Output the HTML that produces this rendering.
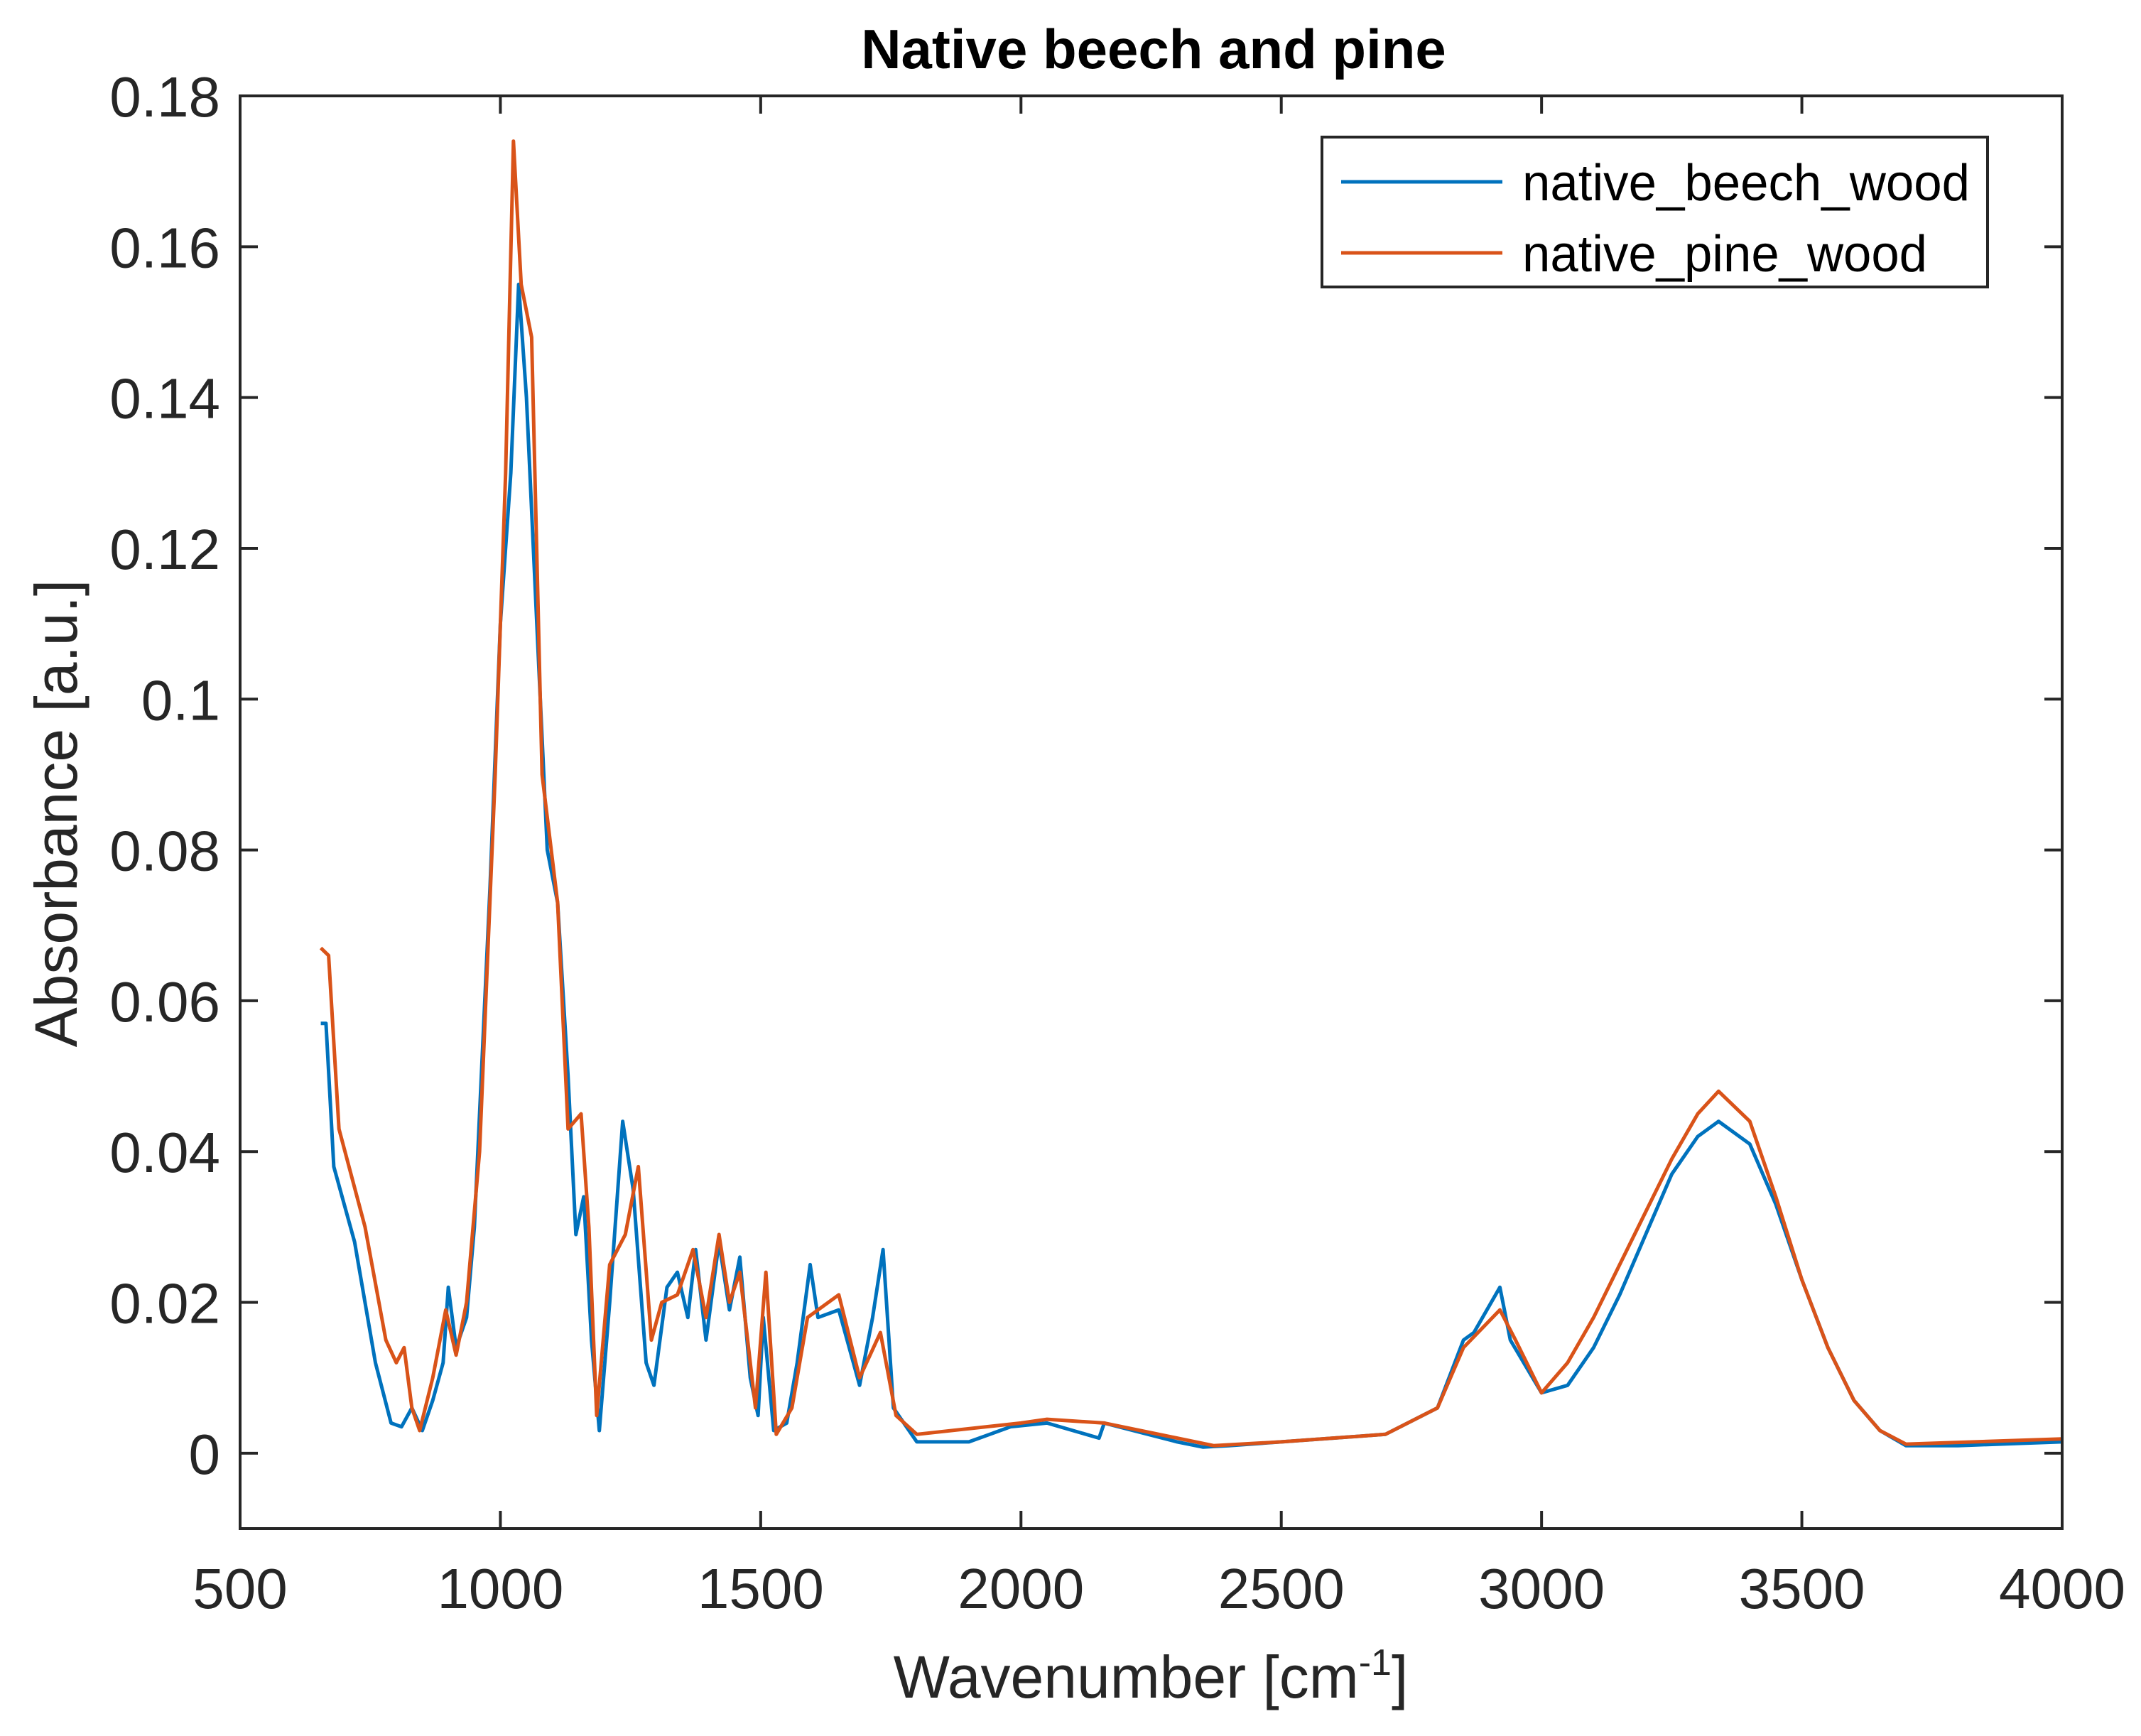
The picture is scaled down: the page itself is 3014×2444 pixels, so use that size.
<!DOCTYPE html>
<html><head><meta charset="utf-8"><style>
html,body{margin:0;padding:0;background:#fff;}
svg{display:block;font-family:"Liberation Sans",sans-serif;}
</style></head><body>
<svg id="chart" width="3014" height="2444" viewBox="0 0 3014 2444" xmlns="http://www.w3.org/2000/svg">
<rect x="0" y="0" width="3014" height="2444" fill="#fff"/>
<text x="1624" y="96" font-size="78" font-weight="bold" text-anchor="middle" fill="#000">Native beech and pine</text>
<g id="plot"></g>
<g id="axes"></g>
<text x="1620" y="2390" font-size="84" text-anchor="middle" fill="#262626">Wavenumber [cm<tspan font-size="52" dy="-32">-1</tspan><tspan dy="32">]</tspan></text>
<text transform="translate(108,1145) rotate(-90)" font-size="84" text-anchor="middle" fill="#262626">Absorbance [a.u.]</text>
<g>
<rect x="1861" y="193" width="937" height="211" fill="#fff" stroke="#262626" stroke-width="4"/>
<line x1="1888" y1="256" x2="2115" y2="256" stroke="#0072BD" stroke-width="5"/>
<text x="2143" y="282" font-size="72" textLength="630" lengthAdjust="spacingAndGlyphs" fill="#000">native_beech_wood</text>
<line x1="1888" y1="356" x2="2115" y2="356" stroke="#D95319" stroke-width="5"/>
<text x="2143" y="382" font-size="72" textLength="570" lengthAdjust="spacingAndGlyphs" fill="#000">native_pine_wood</text>
</g>
</svg>
<script>
const xTicks=[500,1000,1500,2000,2500,3000,3500,4000];
const yTicks=[0,0.02,0.04,0.06,0.08,0.1,0.12,0.14,0.16,0.18];
const yTickLabels=["0","0.02","0.04","0.06","0.08","0.1","0.12","0.14","0.16","0.18"];
const beechX=[655,665,680,720,760,790,810,830,850,870,890,900,915,935,950,980,1000,1020,1035,1050,1070,1090,1110,1130,1145,1160,1175,1190,1210,1235,1255,1280,1295,1320,1340,1360,1375,1395,1420,1440,1460,1480,1495,1505,1525,1550,1570,1595,1610,1650,1690,1715,1735,1755,1800,1900,1980,2050,2150,2160,2300,2350,2400,2600,2700,2800,2850,2870,2920,2940,3000,3050,3100,3150,3200,3250,3300,3340,3400,3450,3500,3550,3600,3650,3700,3800,4000];
const beechY=[0.057,0.057,0.038,0.028,0.012,0.004,0.0035,0.006,0.003,0.007,0.012,0.022,0.014,0.018,0.03,0.075,0.11,0.13,0.155,0.14,0.11,0.08,0.073,0.05,0.029,0.034,0.015,0.003,0.02,0.044,0.035,0.012,0.009,0.022,0.024,0.018,0.027,0.015,0.028,0.019,0.026,0.01,0.005,0.018,0.003,0.004,0.012,0.025,0.018,0.019,0.009,0.018,0.027,0.006,0.0015,0.0015,0.0035,0.004,0.002,0.004,0.0015,0.0008,0.001,0.002,0.0025,0.006,0.015,0.016,0.022,0.015,0.008,0.009,0.014,0.021,0.029,0.037,0.042,0.044,0.041,0.033,0.023,0.014,0.007,0.003,0.001,0.001,0.0015];
const pineX=[655,670,690,740,780,800,815,830,845,870,895,915,935,960,990,1010,1025,1040,1060,1080,1110,1130,1155,1170,1185,1210,1240,1265,1290,1310,1340,1370,1395,1420,1440,1460,1490,1510,1530,1560,1590,1650,1690,1730,1760,1800,2000,2050,2160,2300,2370,2500,2700,2800,2850,2920,2950,3000,3050,3100,3150,3200,3250,3300,3340,3400,3450,3500,3550,3600,3650,3700,4000];
const pineY=[0.067,0.066,0.043,0.03,0.015,0.012,0.014,0.006,0.003,0.01,0.019,0.013,0.02,0.04,0.09,0.13,0.174,0.155,0.148,0.09,0.073,0.043,0.045,0.03,0.005,0.025,0.029,0.038,0.015,0.02,0.021,0.027,0.018,0.029,0.02,0.024,0.006,0.024,0.0025,0.006,0.018,0.021,0.01,0.016,0.005,0.0025,0.004,0.0045,0.004,0.002,0.001,0.0015,0.0025,0.006,0.014,0.019,0.015,0.008,0.012,0.018,0.025,0.032,0.039,0.045,0.048,0.044,0.034,0.023,0.014,0.007,0.003,0.0012,0.0019];
const L=338,R=2903,T=135,B=2152,X0=500,X1=4000,Y0=-0.01,Y1=0.18;
function sx(v){return L+(v-X0)/(X1-X0)*(R-L);}
function sy(v){return B-(v-Y0)/(Y1-Y0)*(B-T);}
const NS="http://www.w3.org/2000/svg";
const plot=document.getElementById('plot'),axes=document.getElementById('axes');
function line(xs,ys,color,name){
  const p=document.createElementNS(NS,'polyline');
  p.setAttribute('points',xs.map((x,i)=>sx(x).toFixed(1)+','+sy(ys[i]).toFixed(1)).join(' '));
  p.setAttribute('fill','none');p.setAttribute('stroke',color);p.setAttribute('stroke-width','5');p.setAttribute('stroke-linejoin','round');
  
  
  plot.appendChild(p);
}
line(beechX,beechY,'#0072BD','beech-series-line');
line(pineX,pineY,'#D95319','pine-series-line');
const box=document.createElementNS(NS,'rect');
box.setAttribute('x',L);box.setAttribute('y',T);box.setAttribute('width',R-L);box.setAttribute('height',B-T);
box.setAttribute('fill','none');box.setAttribute('stroke','#262626');box.setAttribute('stroke-width','4');


axes.appendChild(box);
xTicks.forEach(v=>{
  const x=sx(v);
  [[B,B-25],[T,T+25]].forEach(([a,b])=>{const l=document.createElementNS(NS,'line');l.setAttribute('x1',x);l.setAttribute('x2',x);l.setAttribute('y1',a);l.setAttribute('y2',b);l.setAttribute('stroke','#262626');l.setAttribute('stroke-width','4');
  
  
  axes.appendChild(l);});
  const t=document.createElementNS(NS,'text');t.setAttribute('x',x);t.setAttribute('y',B+112);t.setAttribute('font-size','80');t.setAttribute('text-anchor','middle');t.setAttribute('fill','#262626');t.textContent=v;
  
  
  axes.appendChild(t);
});
yTicks.forEach((v,i)=>{
  const y=sy(v);
  [[L,L+25],[R,R-25]].forEach(([a,b])=>{const l=document.createElementNS(NS,'line');l.setAttribute('y1',y);l.setAttribute('y2',y);l.setAttribute('x1',a);l.setAttribute('x2',b);l.setAttribute('stroke','#262626');l.setAttribute('stroke-width','4');
  
  
  axes.appendChild(l);});
  const t=document.createElementNS(NS,'text');t.setAttribute('x',L-28);t.setAttribute('y',y+29);t.setAttribute('font-size','80');t.setAttribute('text-anchor','end');t.setAttribute('fill','#262626');t.textContent=yTickLabels[i];
  
  
  axes.appendChild(t);
});
</script>
</body></html>
